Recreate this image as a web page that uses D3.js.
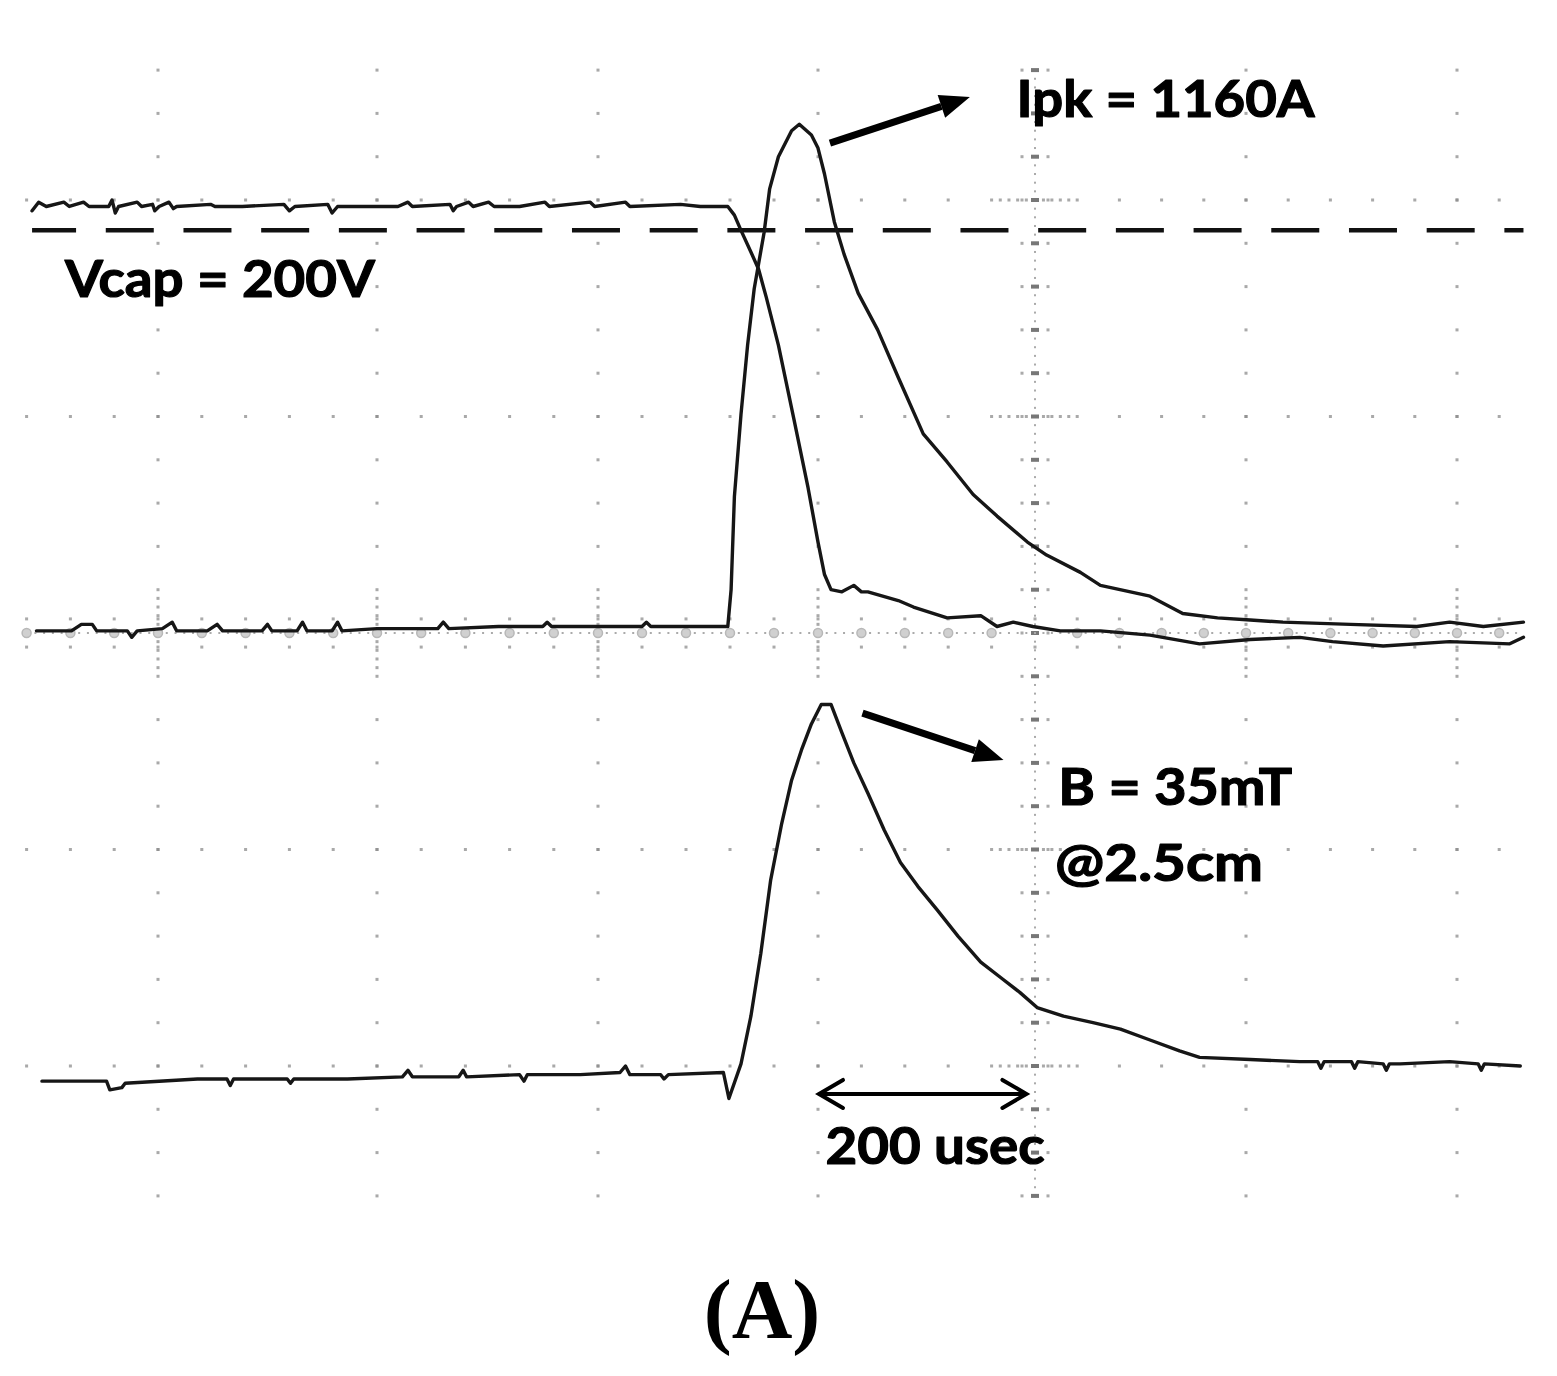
<!DOCTYPE html>
<html>
<head>
<meta charset="utf-8">
<script src="https://cdn.jsdelivr.net/npm/d3@7"></script>
<style>
  html, body { margin: 0; padding: 0; background: #fff; }
  svg { display: block; }
</style>
</head>
<body>
<svg id="chart" width="1557" height="1376"></svg>
<script>
// ---------------- DATA (time in µs from screen centre, level in screen divisions) ----------------
const timeDivisions = [-1000, -800, -600, -400, -200, 0, 200, 400, 600];   // vertical graticule lines (µs)
const levelDivisions = [-3, -2, -1, 0, 1, 2, 3];                          // horizontal graticule lines (div)

// Coil current trace (Ipk = 1160 A)
const currentTrace = [
  [-911,0.01],[-879,0.01],[-870,0.04],[-860,0.04],[-856,0.01],[-828,0.01],[-824,-0.02],[-819,0.01],
  [-796,0.02],[-787,0.05],[-783,0.01],[-755,0.01],[-746,0.04],[-741,0.01],[-705,0.01],[-700,0.04],
  [-696,0.01],[-673,0.01],[-668,0.05],[-664,0.01],[-641,0.01],[-636,0.05],[-632,0.01],[-600,0.02],
  [-563,0.02],[-545,0.02],[-540,0.05],[-535,0.02],[-490,0.03],[-450,0.03],[-446,0.05],[-442,0.03],
  [-398,0.03],[-360,0.03],[-356,0.05],[-352,0.03],[-325,0.03],[-282,0.03],
  [-279,0.20],[-276,0.63],[-270,1.01],[-264,1.33],[-258,1.59],[-249,1.85],[-244,2.05],[-236,2.20],
  [-224,2.32],[-217,2.35],[-206,2.30],[-200,2.24],[-194,2.12],[-185,1.90],[-176,1.75],[-163,1.57],
  [-145,1.40],[-126,1.18],[-103,0.92],[-81,0.79],[-57,0.64],[-35,0.54],[-7,0.42],[11,0.36],
  [43,0.28],[62,0.22],[109,0.17],[140,0.09],[173,0.07],[204,0.06],[235,0.05],[299,0.04],
  [362,0.03],[393,0.05],[425,0.03],[463,0.05]
];

// Capacitor voltage trace (Vcap = 200 V)
const voltageTrace = [
  [-915,1.95],[-909,1.99],[-902,1.97],[-886,1.99],[-881,1.97],[-868,1.99],[-863,1.97],[-845,1.97],
  [-842,2.00],[-839,1.94],[-836,1.97],[-819,1.99],[-815,1.97],[-805,1.98],[-803,1.95],[-799,1.97],
  [-790,1.99],[-786,1.96],[-783,1.97],[-752,1.98],[-748,1.97],[-723,1.97],[-685,1.98],[-680,1.95],
  [-675,1.97],[-645,1.98],[-641,1.94],[-636,1.97],[-581,1.97],[-572,1.99],[-568,1.97],[-534,1.98],
  [-531,1.95],[-528,1.97],[-517,1.99],[-513,1.97],[-499,1.99],[-494,1.97],[-471,1.97],[-448,1.99],
  [-444,1.97],[-407,1.99],[-403,1.97],[-375,1.99],[-371,1.97],[-325,1.98],[-307,1.97],[-282,1.97],
  [-276,1.93],[-270,1.86],[-261,1.76],[-254,1.68],[-247,1.55],[-236,1.33],[-222,0.99],[-209,0.67],
  [-200,0.42],[-194,0.27],[-188,0.20],[-178,0.19],[-167,0.22],[-160,0.19],[-154,0.19],[-126,0.15],
  [-112,0.12],[-81,0.07],[-50,0.08],[-35,0.03],[-20,0.05],[-2,0.03],[24,0.01],[62,0.01],
  [109,-0.01],[156,-0.05],[204,-0.03],[251,-0.02],[282,-0.04],[330,-0.06],[393,-0.04],[450,-0.05],[463,-0.02]
];

// Magnetic field trace (B = 35 mT @ 2.5 cm)
const fieldTrace = [
  [-906,-2.07],[-847,-2.07],[-844,-2.11],[-833,-2.10],[-830,-2.08],[-764,-2.06],[-737,-2.06],[-734,-2.09],
  [-731,-2.06],[-682,-2.06],[-679,-2.08],[-676,-2.06],[-627,-2.06],[-577,-2.05],[-572,-2.02],[-568,-2.05],
  [-526,-2.05],[-522,-2.02],[-519,-2.05],[-471,-2.04],[-467,-2.07],[-464,-2.04],[-416,-2.04],[-380,-2.03],
  [-375,-2.00],[-371,-2.04],[-343,-2.04],[-340,-2.06],[-336,-2.04],[-286,-2.03],[-281,-2.15],[-270,-1.99],
  [-261,-1.77],[-252,-1.48],[-243,-1.14],[-233,-0.88],[-224,-0.68],[-215,-0.54],[-206,-0.42],[-197,-0.33],
  [-188,-0.33],[-178,-0.46],[-167,-0.60],[-154,-0.74],[-139,-0.91],[-124,-1.06],[-108,-1.17],[-90,-1.28],
  [-71,-1.40],[-50,-1.52],[-32,-1.59],[-14,-1.66],[2,-1.73],[27,-1.77],[55,-1.80],[81,-1.83],
  [109,-1.88],[137,-1.93],[156,-1.96],[204,-1.97],[251,-1.98],[268,-1.98],[271,-2.01],[274,-1.98],
  [300,-1.98],[303,-2.01],[306,-1.98],[330,-1.99],[333,-2.02],[336,-1.99],[346,-1.99],[393,-1.98],
  [420,-1.99],[423,-2.02],[426,-1.99],[460,-2.00]
];

// Vcap cursor level (dashed)
const cursorLevel = [[-915, 1.86], [463, 1.86]];

// Labels
const labels = [
  { text: "Ipk = 1160A", t: -17,  v: 2.383,  width: 298 },
  { text: "Vcap = 200V", t: -885, v: 1.552,  width: 310 },
  { text: "B = 35mT",    t: 22,   v: -0.794, width: 234 },
  { text: "@2.5cm",      t: 19,   v: -1.146, width: 208 },
  { text: "200 usec",    t: -193, v: -2.453, width: 219 }
];
const arrowIpk   = { from: [-189, 2.263], to: [-60, 2.476] };
const arrowB     = { from: [-159, -0.370], to: [-29, -0.587] };
const spanArrow  = { from: [-200, -2.129], to: [-7, -2.129] };
const caption = "(A)";

// ---------------- SCALES ----------------
const svg = d3.select("#chart");
const x = d3.scaleLinear().domain(timeDivisions).range([-61, 158, 377, 598, 818, 1035, 1246, 1457, 1668]);
const y = d3.scaleLinear().domain([-3, 3]).range([1282.5, -16.5]);

const gGrid = svg.append("g");
const dotColor = "#8c8c8c";

// graticule dots on major lines
const majorT = timeDivisions.filter(t => t !== 0 && t > -1000 && t < 600);
const majorV = levelDivisions.filter(v => v !== 0 && Math.abs(v) < 3);
const vSteps = d3.range(-13, 14).map(k => +(k * 0.2).toFixed(2));
const tSteps = d3.range(-23, 12).map(k => k * 40);

const dots = [];
majorT.forEach(t => vSteps.forEach(v => dots.push([t, v])));
majorV.forEach(v => tSteps.forEach(t => dots.push([t, v])));
// dense sub ticks where major lines cross centre axes
majorV.forEach(v => [-32,-24,-16,-8,8,16,24,32].forEach(dt => dots.push([dt, v])));
majorT.forEach(t => [-0.16,-0.12,-0.08,-0.04,0.04,0.08,0.12,0.16].forEach(dv => dots.push([t, dv])));

gGrid.selectAll("rect.dot").data(dots).join("rect")
  .attr("x", d => x(d[0]) - 1.5).attr("y", d => y(d[1]) - 1.5)
  .attr("width", 3).attr("height", 3).attr("fill", dotColor).attr("opacity", 0.75);

// centre vertical axis: fine dotted line + tick marks
const fineV = d3.range(-65, 66).map(k => k * 0.04);
gGrid.selectAll("rect.fv").data(fineV).join("rect")
  .attr("x", x(0) - 1).attr("y", d => y(d) - 1).attr("width", 2).attr("height", 2)
  .attr("fill", "#aaa");
gGrid.selectAll("rect.tv").data(vSteps).join("rect")
  .attr("x", x(0) - 4).attr("y", d => y(d) - 2).attr("width", 8).attr("height", 4)
  .attr("fill", "#777");
gGrid.selectAll("g.tvs").data(vSteps).join("g").each(function(d) {
  const g = d3.select(this);
  [-13, 13].forEach(dx => g.append("rect").attr("x", x(0) + dx - 1.5).attr("y", y(d) - 1.5)
    .attr("width", 3).attr("height", 3).attr("fill", "#aaa"));
});

// centre horizontal axis: fine dotted line + rings
const fineT = d3.range(-115, 58).map(k => k * 8);
gGrid.selectAll("rect.fh").data(fineT).join("rect")
  .attr("x", d => x(d) - 1).attr("y", y(0) - 1).attr("width", 2).attr("height", 2)
  .attr("fill", "#aaa");
gGrid.selectAll("circle.ring").data(tSteps.filter(t => t !== 0)).join("circle")
  .attr("cx", d => x(d)).attr("cy", y(0)).attr("r", 4.5)
  .attr("fill", "#d0d0d0").attr("stroke", "#b8b8b8").attr("stroke-width", 1.5);
gGrid.selectAll("g.ths").data(tSteps).join("g").each(function(d) {
  const g = d3.select(this);
  [-0.065, 0.065].forEach(dv => g.append("rect").attr("x", x(d) - 1.5).attr("y", y(dv) - 1.5)
    .attr("width", 3).attr("height", 3).attr("fill", "#aaa"));
});

// ---------------- CURSOR + TRACES ----------------
const line = d3.line().x(d => x(d[0])).y(d => y(d[1])).curve(d3.curveLinear);

svg.append("path").datum(cursorLevel).attr("d", line)
  .attr("fill", "none").attr("stroke", "#111").attr("stroke-width", 4.5)
  .attr("stroke-dasharray", "48,29.7").attr("stroke-dashoffset", 4);

[currentTrace, voltageTrace, fieldTrace].forEach(tr => {
  svg.append("path").datum(tr).attr("d", line)
    .attr("fill", "none").attr("stroke", "#161616").attr("stroke-width", 3.4)
    .attr("stroke-linejoin", "round").attr("stroke-linecap", "round");
});

// ---------------- ANNOTATIONS ----------------
function filledArrow(a) {
  const x1 = x(a.from[0]), y1 = y(a.from[1]), x2 = x(a.to[0]), y2 = y(a.to[1]);
  const ang = Math.atan2(y2 - y1, x2 - x1), L = 30, W = 12;
  const bx = x2 - L * Math.cos(ang), by = y2 - L * Math.sin(ang);
  svg.append("line").attr("x1", x1).attr("y1", y1).attr("x2", bx).attr("y2", by)
    .attr("stroke", "#000").attr("stroke-width", 7);
  svg.append("polygon").attr("points", [
    [x2, y2],
    [bx + W * Math.sin(ang), by - W * Math.cos(ang)],
    [bx - W * Math.sin(ang), by + W * Math.cos(ang)]
  ].map(p => p.join(",")).join(" ")).attr("fill", "#000");
}
filledArrow(arrowIpk);
filledArrow(arrowB);

// double-headed span arrow
(function() {
  const x1 = x(spanArrow.from[0]), x2 = x(spanArrow.to[0]), yy = y(spanArrow.from[1]);
  const g = svg.append("g").attr("stroke", "#000").attr("stroke-width", 4).attr("fill", "none")
    .attr("stroke-linecap", "round");
  g.append("line").attr("x1", x1 + 2).attr("x2", x2 - 2).attr("y1", yy).attr("y2", yy);
  g.append("polyline").attr("points", `${x1 + 25},${yy - 14} ${x1 + 1},${yy} ${x1 + 25},${yy + 14}`);
  g.append("polyline").attr("points", `${x2 - 25},${yy - 14} ${x2 - 1},${yy} ${x2 - 25},${yy + 14}`);
})();

svg.selectAll("text.lab").data(labels).join("text")
  .attr("class", "lab")
  .attr("x", d => x(d.t)).attr("y", d => y(d.v))
  .attr("font-family", "Lato, 'Open Sans', sans-serif").attr("font-weight", 700)
  .attr("font-size", 51).attr("fill", "#000")
  .attr("stroke", "#000").attr("stroke-width", 1.2).attr("stroke-linejoin", "round")
  .attr("textLength", d => d.width).attr("lengthAdjust", "spacingAndGlyphs")
  .text(d => d.text);

svg.append("text").attr("x", 762).attr("y", 1338).attr("text-anchor", "middle")
  .attr("font-family", "'Liberation Serif', 'Times New Roman', serif").attr("font-weight", 700)
  .attr("font-size", 84).attr("fill", "#000").text(caption);
</script>
</body>
</html>
